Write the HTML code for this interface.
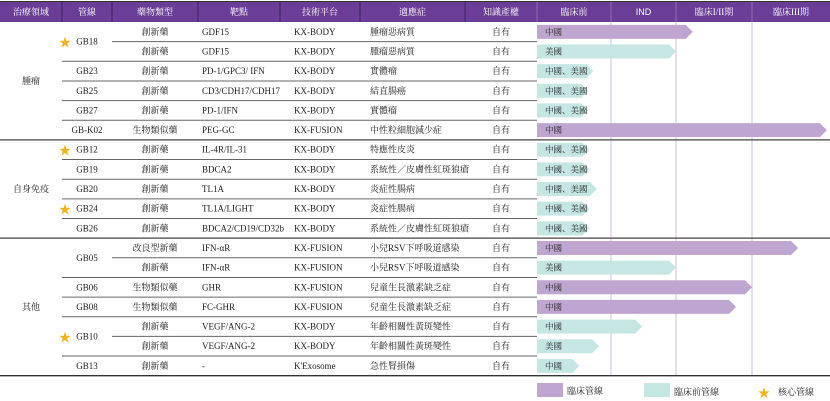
<!DOCTYPE html>
<html><head><meta charset="utf-8">
<style>
html,body{margin:0;padding:0;background:#fff;width:830px;height:401px;overflow:hidden}
svg{display:block;font-family:"Liberation Serif","Noto Serif CJK SC",serif}
</style></head>
<body>
<svg id="c" width="830" height="401" viewBox="0 0 830 401"></svg>
<script>
const headers=["治療領域","管線","藥物類型","靶點","技術平台","適應症","知識產權","臨床前","IND","臨床I/II期","臨床III期"];
const colX=[0,62,112,198,280,360,465,537,611,676,752,830];
const pipelines=["GB18","GB18","GB23","GB25","GB27","GB-K02","GB12","GB19","GB20","GB24","GB26","GB05","GB05","GB06","GB08","GB10","GB10","GB13"];
const drugTypes=["創新藥","創新藥","創新藥","創新藥","創新藥","生物類似藥","創新藥","創新藥","創新藥","創新藥","創新藥","改良型新藥","創新藥","生物類似藥","生物類似藥","創新藥","創新藥","創新藥"];
const targets=["GDF15","GDF15","PD-1/GPC3/ IFN","CD3/CDH17/CDH17","PD-1/IFN","PEG-GC","IL-4R/IL-31","BDCA2","TL1A","TL1A/LIGHT","BDCA2/CD19/CD32b","IFN-αR","IFN-αR","GHR","FC-GHR","VEGF/ANG-2","VEGF/ANG-2","-"];
const platforms=["KX-BODY","KX-BODY","KX-BODY","KX-BODY","KX-BODY","KX-FUSION","KX-BODY","KX-BODY","KX-BODY","KX-BODY","KX-BODY","KX-FUSION","KX-FUSION","KX-FUSION","KX-FUSION","KX-BODY","KX-BODY","K'Exosome"];
const indications=["腫瘤惡病質","腫瘤惡病質","實體瘤","結直腸癌","實體瘤","中性粒細胞減少症","特應性皮炎","系統性／皮膚性紅斑狼瘡","炎症性腸病","炎症性腸病","系統性／皮膚性紅斑狼瘡","小兒RSV下呼吸道感染","小兒RSV下呼吸道感染","兒童生長激素缺乏症","兒童生長激素缺乏症","年齡相關性黃斑變性","年齡相關性黃斑變性","急性腎損傷"];
const regions=["中國","美國","中國、美國","中國、美國","中國、美國","中國","中國、美國","中國、美國","中國、美國","中國、美國","中國、美國","中國","美國","中國","中國","中國","美國","中國"];
// progress in stage units: 0=start preclinical,1=IND start,2=Phase I/II start,3=Phase III start,4=end
const progress=[2.22,2.0,0.76,0.69,0.69,3.96,0.71,0.71,0.81,0.71,0.71,3.59,2.0,3.0,2.79,1.48,0.84,0.57];
const clinical=[1,0,0,0,0,1,0,0,0,0,0,1,0,1,1,0,0,0];
const areas=["腫瘤","自身免疫","其他"];
const areaRows=[[0,5],[6,10],[11,17]];
const coreRows=[0,6,9,15];

const NS="http://www.w3.org/2000/svg";
const svg=document.getElementById('c');
function el(t,a,p){const e=document.createElementNS(NS,t);for(const k in a)e.setAttribute(k,a[k]);(p||svg).appendChild(e);return e;}
function txt(x,y,s,o){const e=el('text',Object.assign({x:x,y:y,'font-size':9,fill:'#222','dominant-baseline':'central'},o||{}));e.textContent=s;return e;}
const top0=22,rh=19.65;
const rowY=i=>top0+i*rh;
const stageX=[537,611,676,752,830];
function xOf(v){const i=Math.min(3,Math.floor(v));return stageX[i]+(v-i)*(stageX[i+1]-stageX[i]);}

// header
const hb=el('rect',{x:0,y:2,width:830,height:20,fill:'#6a3d96'});

for(let i=0;i<headers.length;i++){
  const t=txt((colX[i]+colX[i+1])/2,12,headers[i],{fill:'#fff','text-anchor':'middle','font-size':9,'font-family':headers[i]==='IND'?'Liberation Sans':'"Liberation Serif","Noto Serif CJK SC",serif'});
  
  if(i>0)el('line',{x1:colX[i],y1:2,x2:colX[i],y2:22,stroke:i<7?'#3d2260':'#8d6ab0','stroke-width':1});
}
// stage gridlines
for(let i=1;i<4;i++){const l=el('line',{x1:stageX[i],y1:22,x2:stageX[i],y2:rowY(18),stroke:'#d5bfe3','stroke-width':1});}

// rows
for(let i=0;i<18;i++){
  const cy=rowY(i)+rh/2;
  const g=el('g',{});
  const same=i>0&&pipelines[i]===pipelines[i-1];
  if(!same){
    const last=(i+1<18&&pipelines[i+1]===pipelines[i]);
    const py=last?rowY(i)+rh:cy;
    txt(87,py,pipelines[i],{'text-anchor':'middle',fill:'#222'},g);
    if(coreRows.includes(i)){const s=el('text',{x:65,y:py+1,'font-size':15,fill:'#f0b323','text-anchor':'middle','dominant-baseline':'central','font-family':'DejaVu Sans'},g);s.textContent='★';}
  }
  txt(155,cy,drugTypes[i],{'text-anchor':'middle'},g);
  txt(202,cy,targets[i],{},g);
  txt(294,cy,platforms[i],{},g);
  txt(370,cy,indications[i],{},g);
  txt(501,cy,"自有",{'text-anchor':'middle'},g);
  // bar
  const x0=537,x1=xOf(progress[i]),h=14,yt=cy-h/2;
  const b=el('polygon',{points:`${x0},${yt} ${x1-7},${yt} ${x1},${cy} ${x1-7},${yt+h} ${x0},${yt+h}`,fill:clinical[i]?'#bfa6d0':'#c6e6e3'},g);
  
  txt(545,cy,regions[i],{'font-size':8.5},g);
  // separator below
  if(i<17){
    const isArea=areaRows.some(r=>r[1]===i);
    const sx=isArea?0:(pipelines[i+1]===pipelines[i]?112:62);
    el('line',{x1:sx,y1:rowY(i+1),x2:isArea?830:537,y2:rowY(i+1),stroke:isArea?'#444':'#666','stroke-width':isArea?1.3:1});
  }
}
// area labels
areas.forEach((a,k)=>{const r=areaRows[k];const t=txt(31,(rowY(r[0])+rowY(r[1]+1))/2,a,{'text-anchor':'middle'});});
el('line',{x1:0,y1:rowY(18),x2:830,y2:rowY(18),stroke:'#333','stroke-width':1.3});
el('line',{x1:0,y1:1.5,x2:830,y2:1.5,stroke:'#333','stroke-width':1});

// legend
const lg=el('g',{});
el('rect',{x:537,y:383,width:26,height:14,fill:'#bfa6d0'},lg);txt(567,391,'臨床管線',{},lg);
el('rect',{x:644,y:383,width:26,height:14,fill:'#c6e6e3'},lg);txt(674,392,'臨床前管線',{},lg);
const ls=el('text',{x:764,y:393,'font-size':15,fill:'#f0b323','text-anchor':'middle','dominant-baseline':'central','font-family':'DejaVu Sans'},lg);ls.textContent='★';
txt(778,392,'核心管線',{},lg);
</script>
</body></html>
